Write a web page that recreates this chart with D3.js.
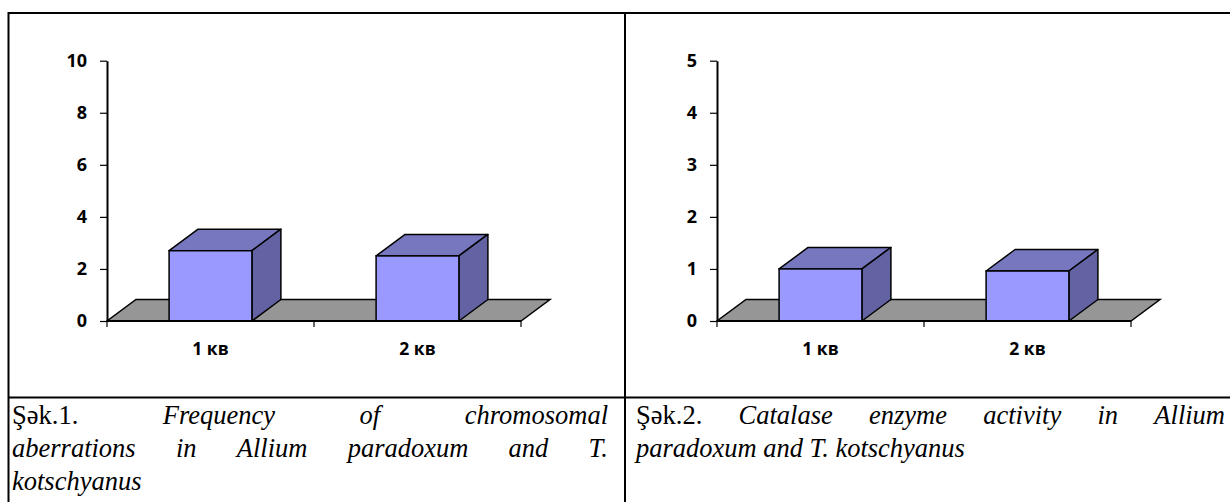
<!DOCTYPE html>
<html>
<head>
<meta charset="utf-8">
<script src="https://cdn.jsdelivr.net/npm/d3@7"></script>
<style>
  html, body { margin: 0; padding: 0; background: #fff; }
  svg { display: block; }
</style>
</head>
<body>
<svg id="chart" width="1230" height="502"></svg>
<script>
// ---- data ----
const categories = ["1 кв", "2 кв"];
const chromValues = [2.7, 2.5];          // Şək.1 frequency of chromosomal aberrations
const catalaseValues = [1.0, 0.96];      // Şək.2 catalase enzyme activity
const chromTicks = [0, 2, 4, 6, 8, 10];
const catalaseTicks = [0, 1, 2, 3, 4, 5];
const captionLeftLines = [
  [["Şək.1.", false], ["Frequency", true], ["of", true], ["chromosomal", true]],
  [["aberrations", true], ["in", true], ["Allium", true], ["paradoxum", true], ["and", true], ["T.", true]],
  [["kotschyanus", true]]
];
const captionRightLines = [
  [["Şək.2.", false], ["Catalase", true], ["enzyme", true], ["activity", true], ["in", true], ["Allium", true]],
  [["paradoxum", true], ["and", true], ["T.", true], ["kotschyanus", true]]
];

const svg = d3.select("#chart");

// ---- table frame ----
const frame = svg.append("g").attr("stroke", "#000").attr("stroke-width", 2);
frame.append("line").attr("x1", 8).attr("x2", 1230).attr("y1", 13).attr("y2", 13);
frame.append("line").attr("x1", 8).attr("x2", 1230).attr("y1", 397.5).attr("y2", 397.5);
frame.append("line").attr("x1", 8.5).attr("x2", 8.5).attr("y1", 12).attr("y2", 502);
frame.append("line").attr("x1", 625).attr("x2", 625).attr("y1", 12).attr("y2", 502);

// ---- 3D bar chart ----
const depthX = 29, depthY = -21.5;
const frontFill = "#9999FF", topFill = "#7777C0", sideFill = "#6363A3", floorFill = "#969696";

function drawChart(offsetX, values, ticks) {
  const g = svg.append("g").attr("transform", `translate(${offsetX},0)`);
  const x0 = 107, x1 = 521, yBase = 321, yTop = 60.7;
  const x = d3.scaleBand().domain(categories).range([x0, x1]).paddingInner(0.6).paddingOuter(0.3);
  const y = d3.scaleLinear().domain([0, d3.max(ticks)]).range([yBase, yTop]);
  const step = x.step();

  // floor
  g.append("polygon")
    .attr("points", [[x0, yBase], [x1, yBase], [x1 + depthX, yBase + depthY], [x0 + depthX, yBase + depthY]].map(p => p.join(",")).join(" "))
    .attr("fill", floorFill).attr("stroke", "#000").attr("stroke-width", 1.5).attr("stroke-linejoin", "miter");

  // bars
  const bars = g.selectAll("g.bar").data(categories.map((c, i) => ({ c, v: values[i] }))).join("g").attr("class", "bar");
  bars.each(function (d) {
    const b = d3.select(this);
    const bx0 = x(d.c), bx1 = x(d.c) + x.bandwidth(), by = y(d.v);
    b.append("polygon")
      .attr("points", [[bx0, by], [bx1, by], [bx1 + depthX, by + depthY], [bx0 + depthX, by + depthY]].map(p => p.join(",")).join(" "))
      .attr("fill", topFill).attr("stroke", "#000").attr("stroke-width", 1.5).attr("stroke-linejoin", "round");
    b.append("polygon")
      .attr("points", [[bx1, by], [bx1 + depthX, by + depthY], [bx1 + depthX, yBase + depthY], [bx1, yBase]].map(p => p.join(",")).join(" "))
      .attr("fill", sideFill).attr("stroke", "#000").attr("stroke-width", 1.5).attr("stroke-linejoin", "round");
    b.append("rect")
      .attr("x", bx0).attr("y", by).attr("width", bx1 - bx0).attr("height", yBase - by)
      .attr("fill", frontFill).attr("stroke", "#000").attr("stroke-width", 1.5);
  });

  // y axis
  const yAxis = g.append("g").attr("transform", `translate(${x0},0)`)
    .call(d3.axisLeft(y).tickValues(ticks).tickSize(7).tickSizeOuter(0).tickPadding(13).tickFormat(d3.format("d")));
  yAxis.select(".domain").attr("stroke-width", 2);
  yAxis.selectAll(".tick line").attr("stroke-width", 1.2);
  yAxis.selectAll("text")
    .attr("font-family", "'Open Sans', sans-serif").attr("font-weight", 700).attr("font-size", 18).attr("fill", "#000");

  // x axis (front edge of floor)
  g.append("line").attr("x1", x0).attr("x2", x1).attr("y1", yBase).attr("y2", yBase)
    .attr("stroke", "#000").attr("stroke-width", 2);
  g.selectAll("line.xtick").data(d3.range(categories.length + 1)).join("line").attr("class", "xtick")
    .attr("x1", i => x0 + i * step).attr("x2", i => x0 + i * step)
    .attr("y1", yBase).attr("y2", yBase + 6)
    .attr("stroke", "#000").attr("stroke-width", 1.2);
  g.selectAll("text.xlab").data(categories).join("text").attr("class", "xlab")
    .attr("x", c => x(c) + x.bandwidth() / 2).attr("y", 355)
    .attr("text-anchor", "middle")
    .attr("font-family", "'Open Sans', sans-serif").attr("font-weight", 700).attr("font-size", 17.5)
    .text(c => c);
}

drawChart(0, chromValues, chromTicks);
drawChart(610, catalaseValues, catalaseTicks);

// ---- captions (justified) ----
function drawCaption(lines, left, right, firstBaseline, lineGap) {
  const g = svg.append("g")
    .style("font-family", "'Liberation Serif', 'Times New Roman', 'DejaVu Serif', serif")
    .attr("font-size", 26.5).attr("fill", "#000");
  lines.forEach((words, li) => {
    const yb = firstBaseline + li * lineGap;
    const nodes = words.map(([w, it]) => g.append("text").attr("y", yb)
      .attr("font-style", it ? "italic" : "normal").text(w));
    const widths = nodes.map(n => n.node().getComputedTextLength());
    const total = d3.sum(widths);
    const isLast = li === lines.length - 1;
    const gap = (!isLast && words.length > 1) ? (right - left - total) / (words.length - 1) : 6.5;
    let cx = left;
    nodes.forEach((n, i) => { n.attr("x", cx); cx += widths[i] + gap; });
  });
}
drawCaption(captionLeftLines, 12, 608, 423.5, 33);
drawCaption(captionRightLines, 636, 1225, 423.5, 33);
</script>
</body>
</html>
